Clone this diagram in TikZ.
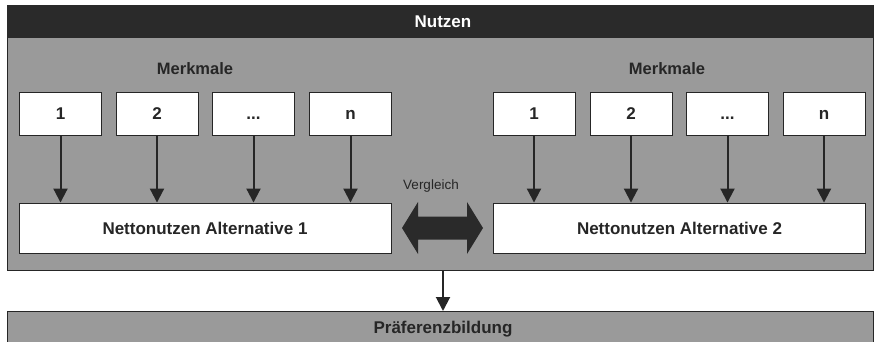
\documentclass[tikz,border=0pt]{standalone}
\usepackage{fontspec}
\setmainfont{Liberation Sans}
\usetikzlibrary{arrows.meta}
\definecolor{bodygray}{HTML}{9A9A9A}
\definecolor{headdark}{HTML}{2A2A2A}
\definecolor{linedark}{HTML}{262626}
\tikzset{
  feat/.style={draw=linedark, line width=0.9pt, fill=white, minimum width=82pt, minimum height=43pt, inner sep=0pt, text height=12pt, text depth=0pt, font=\fontsize{17}{17}\selectfont\bfseries, text=linedark},
  netbox/.style={draw=linedark, line width=0.9pt, fill=white, minimum width=372pt, minimum height=50pt, inner sep=0pt, font=\fontsize{17}{17}\selectfont\bfseries, text=linedark},
  lbl/.style={font=\fontsize{16.5}{16.5}\selectfont\bfseries, text=linedark},
  conn/.style={draw=linedark, line width=2pt, -{Triangle[width=14pt,length=14pt]}},
}
\begin{document}
\begin{tikzpicture}[x=1pt,y=-1pt]
\useasboundingbox (0,0) rectangle (876,342);
% outer frame
\node[fill=bodygray, draw=linedark, line width=0.9pt, minimum width=866pt, minimum height=265pt, inner sep=0pt] (frame) at (440,137.5) {};
\fill[headdark] (7,5) rectangle (873,38);
\node[font=\fontsize{17}{17}\selectfont\bfseries, text=white] (nutzen) at (443,22) {Nutzen};
% bottom band
\node[fill=bodygray, draw=linedark, line width=0.9pt, minimum width=866pt, minimum height=36pt, inner sep=0pt, font=\fontsize{17}{17}\selectfont\bfseries, text=linedark, text height=12pt, text depth=3pt, anchor=north] (pref) at (440,311) {\hspace*{6pt}Präferenzbildung};
% labels
\node[lbl] (mL) at (195,69) {Merkmale};
\node[lbl] (mR) at (667,69) {Merkmale};
% feature boxes left
\node[feat] (a1) at (60.5,113.5) {1};
\node[feat] (a2) at (157,113.5) {2};
\node[feat] (a3) at (253.5,113.5) {...};
\node[feat] (a4) at (350.5,113.5) {n};
% feature boxes right
\node[feat] (b1) at (534,113.5) {1};
\node[feat] (b2) at (631,113.5) {2};
\node[feat] (b3) at (727.5,113.5) {...};
\node[feat] (b4) at (824,113.5) {n};
% Nettonutzen
\node[netbox] (n1) at (205,228) {Nettonutzen Alternative 1};
\node[netbox] (n2) at (679.5,228) {Nettonutzen Alternative 2};
% arrows
\foreach \f in {a1,a2,a3,a4} \draw[conn] (\f.south) -- (\f.south |- n1.north);
\foreach \f in {b1,b2,b3,b4} \draw[conn] (\f.south) -- (\f.south |- n2.north);
% comparison double arrow
\node[font=\fontsize{13.5}{13.5}\selectfont, text=linedark] (vgl) at (431,186) {Vergleich};
\fill[headdark] (402,228) -- (418,202) -- (418,216.5) -- (467,216.5) -- (467,202) -- (483,228) -- (467,254) -- (467,239.5) -- (418,239.5) -- (418,254) -- cycle;
% down arrow
\coordinate (outbottom) at (443,270);
\draw[conn] (outbottom) -- (outbottom |- pref.north);
\end{tikzpicture}
\end{document}
